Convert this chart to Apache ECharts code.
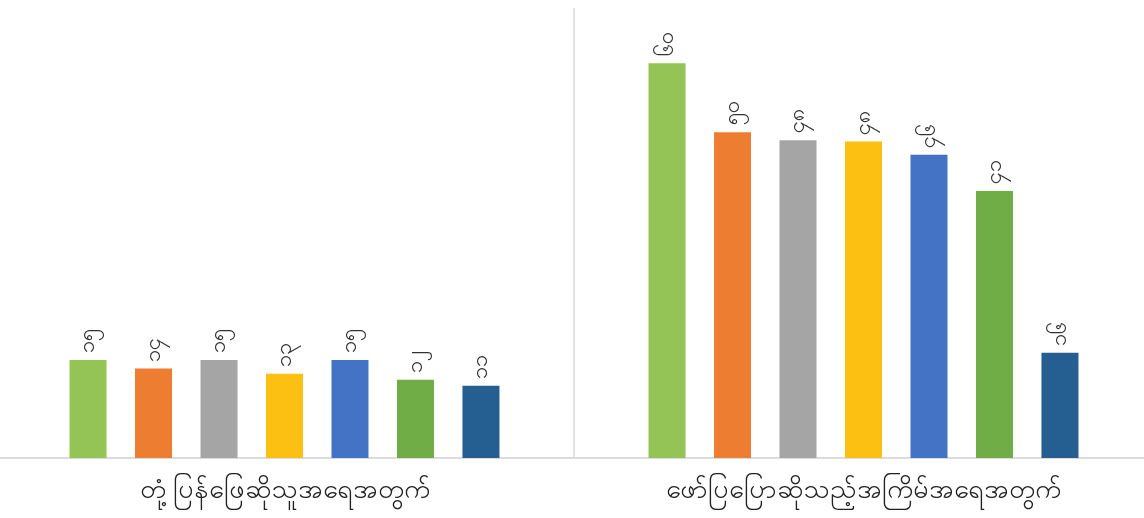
<!DOCTYPE html>
<html><head><meta charset="utf-8">
<script src="https://cdn.jsdelivr.net/npm/echarts@6/dist/echarts.min.js"></script>
<style>html,body{margin:0;padding:0;background:#fff}#c{width:1144px;height:518px}</style>
</head><body><div id="c"></div>
<script>
const categories = ['တုံ့ပြန်ဖြေဆိုသူအရေအတွက်', 'ဖော်ပြပြောဆိုသည့်အကြိမ်အရေအတွက်'];
const s1 = [14.9, 60];
const s2 = [13.6, 49.5];
const s3 = [14.9, 48.3];
const s4 = [12.8, 48.1];
const s5 = [14.9, 46.1];
const s6 = [11.9, 40.6];
const s7 = [11.0, 16.0];
const seriesData = [s1, s2, s3, s4, s5, s6, s7];
const colors = ['#94C356', '#ED7D31', '#A5A5A5', '#FBC012', '#4472C4', '#70AD47', '#255E91'];
const mmDigits = '၀၁၂၃၄၅၆၇၈၉';
function toMM(v){ return String(Math.round(v)).replace(/[0-9]/g, d => mmDigits[+d]); }

const chart = echarts.init(document.getElementById('c'));
chart.setOption({
  animation: false,
  grid: {left: -5, width: 1158, top: 8, bottom: 60, outerBoundsMode: 'none', containLabel: false},
  xAxis: {
    type: 'category', data: categories,
    axisLine: {lineStyle: {color: '#d0d0d0', width: 1.5}},
    axisTick: {show: false},
    splitLine: {show: true, lineStyle: {color: '#d9d9d9', width: 1.5}},
    axisLabel: {color: '#222', fontSize: 27, margin: 19}
  },
  yAxis: {type: 'value', min: 0, max: 68.4, show: false, splitLine: {show: false}},
  series: seriesData.map((d, i) => ({
    type: 'bar', data: d, barWidth: 37, barGap: '77%',
    itemStyle: {color: colors[i]},
    label: {show: true, position: 'top', rotate: 90, align: 'left', verticalAlign: 'middle',
      distance: 7, fontSize: 22, color: '#333', formatter: p => toMM(p.value)}
  }))
});
</script></body></html>
